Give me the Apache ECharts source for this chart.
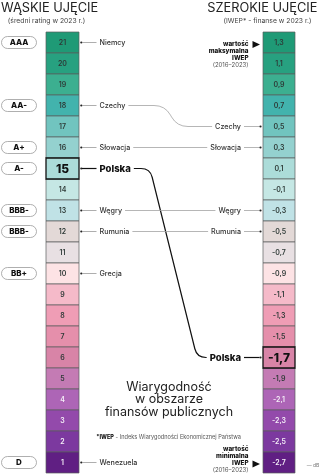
<!DOCTYPE html>
<html><head><meta charset="utf-8">
<script src="https://cdn.jsdelivr.net/npm/echarts@6/dist/echarts.min.js"></script>
<style>html,body{margin:0;padding:0;background:#fff}#c{width:320px;height:475px}</style>
</head><body><div id="c"></div>
<script>
// ---- data ----
const ratings = [21,20,19,18,17,16,15,14,13,12,11,10,9,8,7,6,5,4,3,2,1];
const iwepValues = ['1,3','1,1','0,9','0,7','0,5','0,3','0,1','-0,1','-0,3','-0,5','-0,7','-0,9','-1,1','-1,3','-1,5','-1,7','-1,9','-2,1','-2,3','-2,5','-2,7'];
const pillRatings = [21,18,16,15,13,12,10,1];
const pillLabels = ['AAA','AA-','A+','A-','BBB-','BBB-','BB+','D'];
const countries = ['Niemcy','Czechy','Słowacja','Polska','Węgry','Rumunia','Grecja','Wenezuela'];
const countryRatings = [21,18,16,15,13,12,10,1];
const countryIwep = [null,'0,5','0,3','-1,7','-0,3','-0,5',null,null];
const highlight = 'Polska';
const iwepMaxLabel = ['wartość','maksymalna','IWEP','(2016–2023)'];
const iwepMinLabel = ['wartość','minimalna','IWEP','(2016–2023)'];

// ---- styles ----
const cellColors = ['#1f9a76','#27a180','#3caf90','#42b3ad','#71c4bf','#94d1cf','#acdcd9','#c5e7e4','#c0e2e6','#e3d9d7','#e8e0e3','#fde3e5','#f5bac9','#ef9db5','#e58fab','#d884a7','#c47bb4','#ad65b6','#934aab','#7c399f','#601f83'];
const lightTextFrom = 17;
const FF = "Inter, 'Noto Sans', sans-serif";
const LEFT_COL = [46, 79], RIGHT_COL = [263, 295];
const bends = { 'Czechy': [165, 177, 11], 'Polska': [150, 197, 9] };
const LBL = 7.2, HL = 9.5;

const mctx = document.createElement('canvas').getContext('2d');
function tw(t, size, weight) { mctx.font = weight + ' ' + size + 'px ' + FF; return mctx.measureText(t).width; }
function txt(text, x, y, o) {
  o = o || {};
  return { type: 'text', z2: 20, style: {
    text: text, x: x, y: y, fill: o.fill || '#2b2f2e', fontSize: o.size || 7,
    fontWeight: o.weight || 500, fontFamily: FF,
    align: o.align || 'left', textAlign: o.align || 'left',
    verticalAlign: 'middle', textVerticalAlign: 'middle' } };
}

function cellSeries(labels, col, hlLabel) {
  return {
    type: 'custom', coordinateSystem: 'cartesian2d', clip: false,
    data: labels.map((l, i) => [0, i]),
    renderItem(params, api) {
      const i = params.dataIndex;
      const a = api.coord([col[0], i]), b = api.coord([col[1], i + 1]);
      const hl = String(labels[i]) === String(hlLabel);
      const cx = (a[0] + b[0]) / 2, cy = (a[1] + b[1]) / 2;
      return { type: 'group', children: [
        { type: 'rect', z2: hl ? 10 : 1, shape: { x: a[0], y: a[1], width: b[0] - a[0], height: b[1] - a[1] },
          style: { fill: cellColors[i], stroke: hl ? '#111' : '#5a5d5c', lineWidth: hl ? 1.3 : 0.7 } },
        txt(String(labels[i]), cx, cy + 0.5, { align: 'center', size: hl ? 12 : 7,
          weight: hl ? 800 : 600, fill: hl ? '#111' : (i >= lightTextFrom ? '#f4eef7' : '#2e3a37') })
      ]};
    }
  };
}

const pillSeries = {
  type: 'custom', coordinateSystem: 'cartesian2d', clip: false,
  data: pillRatings.map((r) => [0, ratings.indexOf(r)]),
  renderItem(params, api) {
    const row = ratings.indexOf(pillRatings[params.dataIndex]);
    const c = api.coord([0, row + 0.5]);
    return { type: 'group', children: [
      { type: 'rect', shape: { x: 1.5, y: c[1] - 6, width: 35, height: 12, r: 6 },
        style: { fill: '#fff', stroke: '#9a9a9a', lineWidth: 0.8 } },
      txt(pillLabels[params.dataIndex], 19, c[1] + 0.5, { align: 'center', size: 8, weight: 800, fill: '#111' })
    ]};
  }
};

const leftLabelSeries = {
  type: 'custom', coordinateSystem: 'cartesian2d', clip: false,
  data: countries.map((c, k) => [0, ratings.indexOf(countryRatings[k])]),
  renderItem(params, api) {
    const k = params.dataIndex;
    const row = ratings.indexOf(countryRatings[k]);
    const y = api.coord([0, row + 0.5])[1];
    const hl = countries[k] === highlight;
    return { type: 'group', children: [
      { type: 'circle', shape: { cx: 81.3, cy: y, r: 1.1 }, style: { fill: '#222' } },
      { type: 'line', shape: { x1: 82, y1: y, x2: 96.5, y2: y }, style: { stroke: hl ? '#111' : '#999', lineWidth: hl ? 1.2 : 0.8 } },
      txt(countries[k], 99.5, y + 0.3, { size: hl ? HL : LBL, weight: hl ? 800 : 500, fill: hl ? '#111' : '#333' })
    ]};
  }
};

const linkIdx = countries.map((c, k) => k).filter(k => countryIwep[k] !== null);
const rightLabelSeries = {
  type: 'custom', coordinateSystem: 'cartesian2d', clip: false,
  data: linkIdx.map(k => [0, iwepValues.indexOf(countryIwep[k])]),
  renderItem(params, api) {
    const k = linkIdx[params.dataIndex];
    const rl = ratings.indexOf(countryRatings[k]);
    const rr = iwepValues.indexOf(countryIwep[k]);
    const yL = api.coord([0, rl + 0.5])[1], yR = api.coord([0, rr + 0.5])[1];
    const hl = countries[k] === highlight;
    const lSize = hl ? HL : LBL, lW = hl ? 800 : 500;
    const xs = 99.5 + tw(countries[k], lSize, lW) + 3;
    const xe = 241 - tw(countries[k], lSize, lW) - 3;
    let d;
    if (rl === rr) d = 'M' + xs + ',' + yL + 'L' + xe + ',' + yR;
    else {
      const [a, b, c] = bends[countries[k]];
      const L = Math.hypot(b - a, yR - yL), ux = (b - a) / L, uy = (yR - yL) / L;
      d = 'M' + xs + ',' + yL + 'L' + (a - c) + ',' + yL +
          'Q' + a + ',' + yL + ',' + (a + ux * c) + ',' + (yL + uy * c) +
          'L' + (b - ux * c) + ',' + (yR - uy * c) +
          'Q' + b + ',' + yR + ',' + (b + c) + ',' + yR + 'L' + xe + ',' + yR;
    }
    const stroke = hl ? '#111' : '#a3a3a3', lw = hl ? 1.2 : 0.8;
    return { type: 'group', children: [
      { type: 'path', shape: { pathData: d }, style: { fill: null, stroke: stroke, lineWidth: lw } },
      txt(countries[k], 241, yR + 0.3, { align: 'right', size: lSize, weight: lW, fill: hl ? '#111' : '#333' }),
      { type: 'line', shape: { x1: 244, y1: yR, x2: 259.5, y2: yR }, style: { stroke: stroke, lineWidth: lw } },
      { type: 'circle', shape: { cx: 260.5, cy: yR, r: 1.1 }, style: { fill: '#222' } }
    ]};
  }
};

const extremeSeries = {
  type: 'custom', coordinateSystem: 'cartesian2d', clip: false,
  data: [[0, 0], [0, iwepValues.length - 1]],
  renderItem(params, api) {
    const isMax = params.dataIndex === 0;
    const row = isMax ? 0 : iwepValues.length - 1;
    const y = api.coord([0, row + 0.5])[1];
    const lines = isMax ? iwepMaxLabel : iwepMinLabel;
    const y0 = isMax ? y + 2 : y - 13.5;
    const ty = isMax ? y + 2 : y + 1.5;
    const ch = lines.map((t, j) => txt(t, 248.5, y0 + j * 7, {
      align: 'right', size: j === 3 ? 6 : 6.3, weight: j === 3 ? 400 : 800, fill: j === 3 ? '#555' : '#111' }));
    ch.push({ type: 'polygon', shape: { points: [[252.5, ty - 3.5], [252.5, ty + 3.5], [260, ty]] }, style: { fill: '#111' } });
    return { type: 'group', children: ch };
  }
};

const chart = echarts.init(document.getElementById('c'), null, { renderer: 'canvas' });
chart.setOption({
  animation: false,
  grid: { left: 0, right: 0, top: 32, bottom: 2 },
  xAxis: { type: 'value', min: 0, max: 320, show: false },
  yAxis: { type: 'value', min: 0, max: 21, inverse: true, show: false },
  graphic: [
    { type: 'text', x: 1, y: 8, style: { text: 'WĄSKIE UJĘCIE', fontSize: 12.8, fontWeight: 400, fontFamily: FF, fill: '#222', verticalAlign: 'middle', textVerticalAlign: 'middle' } },
    { type: 'text', x: 46.5, y: 20.5, style: { text: '(średni rating w 2023 r.)', fontSize: 6.8, fontFamily: FF, fill: '#444', align: 'center', textAlign: 'center', verticalAlign: 'middle', textVerticalAlign: 'middle' } },
    { type: 'text', x: 317.5, y: 8, style: { text: 'SZEROKIE UJĘCIE', fontSize: 12.8, fontWeight: 400, fontFamily: FF, fill: '#222', align: 'right', textAlign: 'right', verticalAlign: 'middle', textVerticalAlign: 'middle' } },
    { type: 'text', x: 267.5, y: 20.5, style: { text: '(IWEP* - finanse w 2023 r.)', fontSize: 6.8, fontFamily: FF, fill: '#444', align: 'center', textAlign: 'center', verticalAlign: 'middle', textVerticalAlign: 'middle' } },
    { type: 'text', x: 169, y: 399.5, style: { text: 'Wiarygodność\nw obszarze\nfinansów publicznych', fontSize: 12.5, lineHeight: 12.5, fontWeight: 400, fontFamily: FF, fill: '#222', align: 'center', textAlign: 'center', verticalAlign: 'middle', textVerticalAlign: 'middle' } },
    { type: 'text', x: 168.5, y: 437, style: { text: '{b|*IWEP} - Indeks Wiarygodności Ekonomicznej Państwa', fontSize: 5.6, fontFamily: FF, fill: '#555', align: 'center', textAlign: 'center', verticalAlign: 'middle', textVerticalAlign: 'middle', rich: { b: { fontSize: 5.6, fontWeight: 800, fill: '#111', fontFamily: FF } } } },
    { type: 'text', x: 313, y: 465, style: { text: '— dB', fontSize: 5, fontFamily: FF, fill: '#777', align: 'center', textAlign: 'center', verticalAlign: 'middle', textVerticalAlign: 'middle' } }
  ],
  series: [
    cellSeries(ratings, LEFT_COL, 15),
    cellSeries(iwepValues, RIGHT_COL, '-1,7'),
    pillSeries, leftLabelSeries, rightLabelSeries, extremeSeries
  ]
});
</script>
</body></html>
